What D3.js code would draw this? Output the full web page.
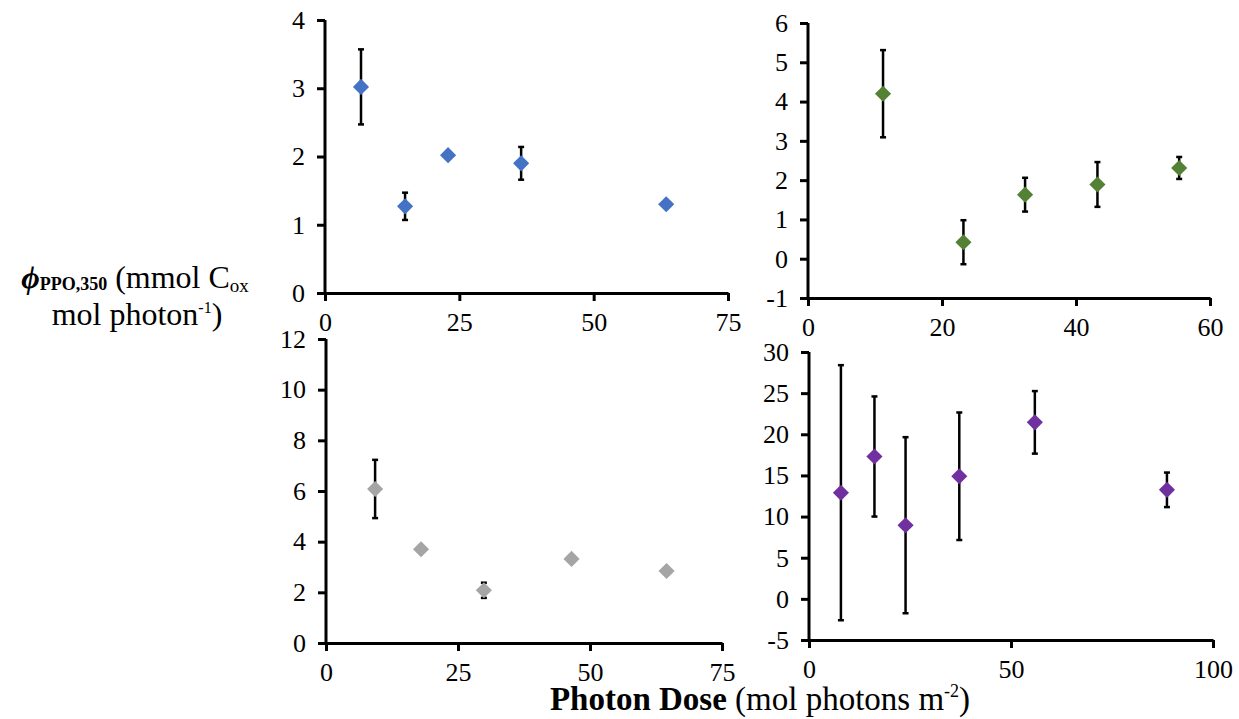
<!DOCTYPE html>
<html>
<head>
<meta charset="utf-8">
<script src="https://cdn.jsdelivr.net/npm/d3@7"></script>
<style>
body { margin: 0; background: #fff; }
svg { display: block; font-family: "Liberation Serif", "Times New Roman", serif; }
</style>
</head>
<body>
<svg id="chart"></svg>
<script>
var width = 1239,
	height = 719;

// top left - blue
var doseA = [6.7, 14.9, 22.9, 36.5, 63.5];
var phiA = [3.02, 1.27, 2.02, 1.90, 1.30];
var errA = [0.55, 0.20, 0, 0.24, 0];
// top right - green
var doseB = [11.2, 23.2, 32.4, 43.2, 55.4];
var phiB = [4.20, 0.42, 1.63, 1.89, 2.31];
var errB = [1.11, 0.56, 0.43, 0.57, 0.28];
// bottom left - grey
var doseC = [9.3, 18.0, 29.9, 46.5, 64.5];
var phiC = [6.08, 3.70, 2.08, 3.32, 2.84];
var errC = [1.15, 0, 0.30, 0, 0];
// bottom right - purple
var doseD = [7.9, 16.2, 23.9, 37.2, 55.9, 88.6];
var phiD = [12.9, 17.3, 8.95, 14.9, 21.45, 13.25];
var errD = [15.5, 7.3, 10.7, 7.75, 3.8, 2.1];

var ticksXA = [0, 25, 50, 75], ticksYA = [0, 1, 2, 3, 4];
var ticksXB = [0, 20, 40, 60], ticksYB = [-1, 0, 1, 2, 3, 4, 5, 6];
var ticksXC = [0, 25, 50, 75], ticksYC = [0, 2, 4, 6, 8, 10, 12];
var ticksXD = [0, 50, 100], ticksYD = [-5, 0, 5, 10, 15, 20, 25, 30];

var panels = [
	{x: doseA, y: phiA, e: errA, tx: ticksXA, ty: ticksYA, color: "#4472C4", left: 325, right: 728, top: 20, bottom: 293},
	{x: doseB, y: phiB, e: errB, tx: ticksXB, ty: ticksYB, color: "#548235", left: 808, right: 1210, top: 23, bottom: 298},
	{x: doseC, y: phiC, e: errC, tx: ticksXC, ty: ticksYC, color: "#A5A5A5", left: 326, right: 722, top: 339, bottom: 643},
	{x: doseD, y: phiD, e: errD, tx: ticksXD, ty: ticksYD, color: "#7030A0", left: 809, right: 1213, top: 352, bottom: 640}
];

var svg = d3.select("#chart").attr("width", width).attr("height", height);

var diamond = d3.symbol().type(d3.symbolSquare).size(130);
var plain = function(d) { return String(d); };

panels.forEach(function(p) {
	var xScale = d3.scaleLinear()
		.domain(d3.extent(p.tx))
		.range([p.left, p.right]);
	var yScale = d3.scaleLinear()
		.domain(d3.extent(p.ty))
		.range([p.bottom, p.top]);

	var g = svg.append("g");

	var xAxis = g.append("g")
		.attr("transform", "translate(0," + p.bottom + ")")
		.call(d3.axisBottom(xScale).tickValues(p.tx).tickFormat(plain).tickSize(8).tickSizeOuter(0).tickPadding(12));
	var yAxis = g.append("g")
		.attr("transform", "translate(" + p.left + ",0)")
		.call(d3.axisLeft(yScale).tickValues(p.ty).tickFormat(plain).tickSize(8).tickSizeOuter(0).tickPadding(12));

	[xAxis, yAxis].forEach(function(a) {
		a.attr("font-family", "Liberation Serif").attr("font-size", 26);
		a.select(".domain").attr("stroke", "#000").attr("stroke-width", 3);
		a.selectAll(".tick line").attr("stroke", "#000").attr("stroke-width", 3);
		a.selectAll(".tick text").attr("fill", "#000");
	});
	// close the corner where the two axes meet
	yAxis.select(".domain").attr("d", "M0," + (p.bottom + 1.5) + "V" + p.top);

	var pts = p.x.map(function(d, i) { return {x: d, y: p.y[i], e: p.e[i]}; });

	var bars = g.append("g").attr("stroke", "#000").attr("stroke-width", 2.5);
	pts.filter(function(d) { return d.e > 0; }).forEach(function(d) {
		var cx = xScale(d.x), y1 = yScale(d.y + d.e), y2 = yScale(d.y - d.e);
		bars.append("line").attr("x1", cx).attr("x2", cx).attr("y1", y1).attr("y2", y2);
		bars.append("line").attr("x1", cx - 3).attr("x2", cx + 3).attr("y1", y1).attr("y2", y1);
		bars.append("line").attr("x1", cx - 3).attr("x2", cx + 3).attr("y1", y2).attr("y2", y2);
	});

	g.append("g").selectAll("path")
		.data(pts)
		.join("path")
		.attr("d", diamond)
		.attr("transform", function(d) { return "translate(" + xScale(d.x) + "," + yScale(d.y) + ") rotate(45)"; })
		.attr("fill", p.color);
});

// y axis title, two lines
var yt = svg.append("text")
	.attr("x", 135).attr("y", 288)
	.attr("text-anchor", "middle")
	.style("font-size", "32px");
yt.append("tspan").text("\u03D5").style("font-weight", "bold").style("font-style", "italic");
yt.append("tspan").text("PPO,350").style("font-weight", "bold").style("font-size", "18px").attr("dy", 2);
yt.append("tspan").text(" (mmol C").attr("dy", -2);
yt.append("tspan").text("ox").style("font-size", "19px").attr("dy", 4);

var yt2 = svg.append("text")
	.attr("x", 137).attr("y", 325)
	.attr("text-anchor", "middle")
	.style("font-size", "32px");
yt2.append("tspan").text("mol photon");
yt2.append("tspan").text("-1").style("font-size", "16px").attr("dy", -12);
yt2.append("tspan").text(")").attr("dy", 12);

// x axis title
var xt = svg.append("text")
	.attr("x", 760).attr("y", 710)
	.attr("text-anchor", "middle")
	.style("font-size", "33px");
xt.append("tspan").text("Photon Dose").style("font-weight", "bold");
xt.append("tspan").text(" (mol photons m");
xt.append("tspan").text("-2").style("font-size", "18px").attr("dy", -13);
xt.append("tspan").text(")").attr("dy", 13);
</script>
</body>
</html>
